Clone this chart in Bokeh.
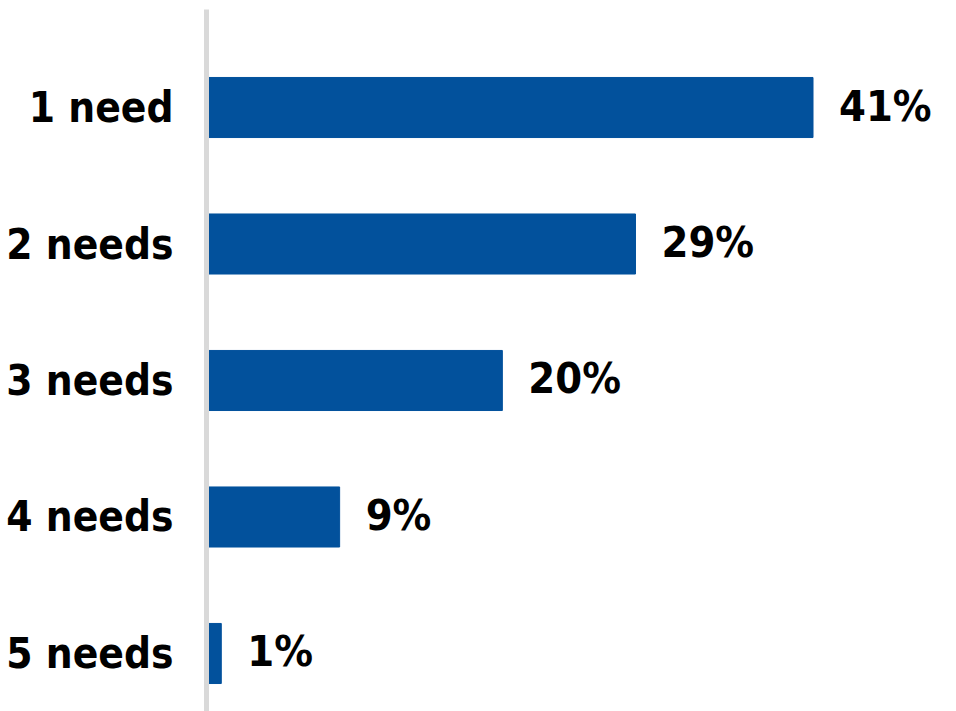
from bokeh.plotting import figure
from bokeh.models import Range1d, FixedTicker, ColumnDataSource
from bokeh.embed import file_html
from bokeh.resources import INLINE
from bokeh.core.properties import value

categories = ["1 need", "2 needs", "3 needs", "4 needs", "5 needs"]
shares = [41, 29, 20, 9, 1]
value_labels = [f"{v}%" for v in shares]

FONT = "'DejaVu Sans Condensed', 'Roboto Condensed', 'Liberation Sans', sans-serif"
BAR = "#02519c"

pos = list(range(len(categories)))
src = ColumnDataSource(dict(y=pos, v=shares, lab=value_labels))

p = figure(width=956, height=711, output_backend="svg", toolbar_location=None,
           x_range=Range1d(0, 50.7), y_range=Range1d(4.425, -0.718),
           min_border_left=206, min_border_right=0, min_border_top=9, min_border_bottom=0)
p.outline_line_color = None
p.grid.visible = False
p.xaxis.visible = False

p.hbar(y="y", left=0, right="v", height=0.44, color=BAR, source=src)
p.text(x="v", y="y", text="lab", source=src, x_offset=26, y_offset=-2, text_align="left",
       text_baseline="middle", text_font=value(FONT), text_font_style="bold",
       text_font_size="43px", text_color="#000000")

ax = p.yaxis[0]
ax.ticker = FixedTicker(ticks=pos)
ax.major_label_overrides = {i: c for i, c in zip(pos, categories)}
ax.major_tick_line_color = None
ax.minor_tick_line_color = None
ax.major_tick_out = 0
ax.major_tick_in = 0
ax.axis_line_color = "#d9d9d9"
ax.axis_line_width = 5
ax.major_label_standoff = 33
ax.major_label_text_font = FONT
ax.major_label_text_font_style = "bold"
ax.major_label_text_font_size = "42px"
ax.major_label_text_color = "#000000"

open("out.html", "w").write(file_html(p, INLINE))
